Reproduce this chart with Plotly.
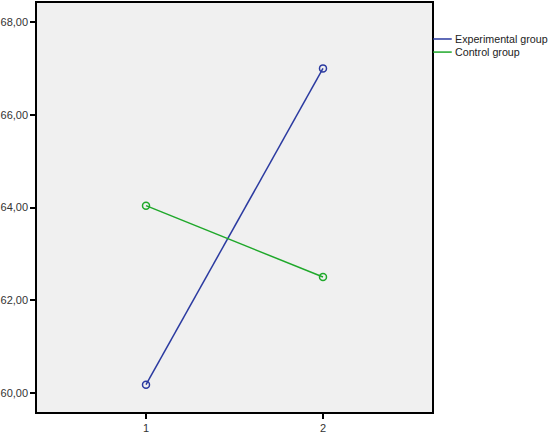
import plotly.graph_objects as go

x_vals = [1, 2]
experimental = [60.18, 67.0]
control = [64.04, 62.5]
y_ticks = [60, 62, 64, 66, 68]
y_tick_labels = ['60,00', '62,00', '64,00', '66,00', '68,00']

series = [
    ('Experimental group', experimental, '#2b3aa0'),
    ('Control group', control, '#1fa82a'),
]

fig = go.Figure()
for name, vals, color in series:
    fig.add_trace(go.Scatter(
        x=x_vals, y=vals, name=name, mode='lines+markers',
        line=dict(color=color, width=1.5),
        marker=dict(symbol='circle-open', size=7, color=color, line=dict(width=1.5))
    ))

# legend drawn by hand: short line sample + label, to the right of the frame
leg_y = [0.912, 0.880]
for (name, vals, color), ly in zip(series, leg_y):
    fig.add_shape(type='line', xref='paper', yref='paper',
                  x0=1.003, x1=1.05, y0=ly, y1=ly,
                  line=dict(color=color, width=1.5))
    fig.add_annotation(xref='paper', yref='paper', x=1.054, y=ly,
                       text=name, showarrow=False, xanchor='left', yanchor='middle',
                       font=dict(size=10.7, color='#222222'))

fig.update_layout(
    width=550, height=433,
    margin=dict(l=37, r=118, t=3, b=21, autoexpand=False),
    paper_bgcolor='white',
    plot_bgcolor='#f0f0f0',
    font=dict(family='Liberation Sans, Arial', size=11, color='#333333'),
    showlegend=False,
)
fig.update_xaxes(
    range=[0.384, 2.616], tickvals=x_vals, ticktext=['1', '2'],
    showgrid=False, zeroline=False, automargin=False,
    showline=True, linecolor='black', linewidth=1.5, mirror=True,
    ticks='outside', ticklen=5, tickwidth=1.5, tickcolor='black'
)
fig.update_yaxes(
    range=[59.59, 68.41], tickvals=y_ticks, ticktext=y_tick_labels,
    showgrid=False, zeroline=False, automargin=False,
    showline=True, linecolor='black', linewidth=1.5, mirror=True,
    ticks='outside', ticklen=5, tickwidth=1.5, tickcolor='black'
)

fig.write_html("out.html", config={'displayModeBar': False},
               post_script="document.body.style.margin='0px';")
